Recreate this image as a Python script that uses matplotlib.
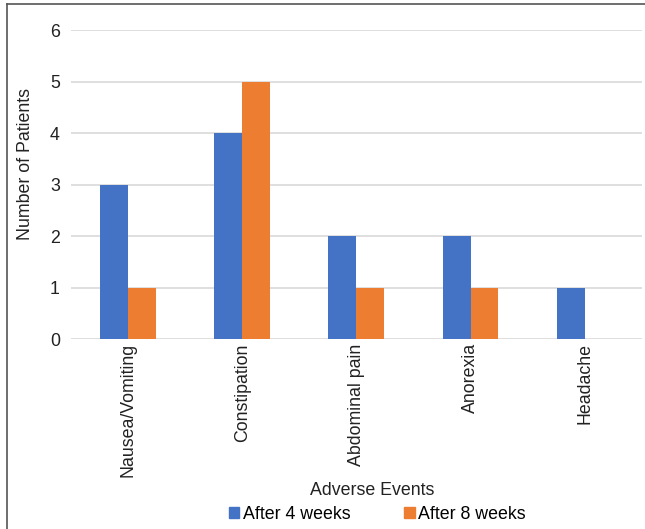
import matplotlib.pyplot as plt
import numpy as np
from matplotlib.patches import Patch
from matplotlib.lines import Line2D

# Datos
eventos = ["Nausea/Vomiting", "Constipation", "Abdominal pain", "Anorexia", "Headache"]
semana4 = [3, 4, 2, 2, 1]
semana8 = [1, 5, 1, 1, 0]
series = ["After 4 weeks", "After 8 weeks"]

azul = "#4472C4"
naranja = "#ED7D31"

plt.rcParams["font.family"] = ["Liberation Sans", "DejaVu Sans"]
plt.rcParams["font.size"] = 12.8

fig = plt.figure(figsize=(6.45, 5.29), dpi=100)
ax = fig.add_axes([0.110, 0.359, 0.885, 0.584])

x = np.arange(len(eventos))
ancho = 0.245
ax.bar(x - ancho / 2, semana4, ancho, color=azul, zorder=3)
ax.bar(x + ancho / 2, semana8, ancho, color=naranja, zorder=3)

ax.set_xlim(-0.5, len(eventos) - 0.5)
ax.set_ylim(0, 6)
ax.set_yticks(range(0, 7))
ax.set_xticks(x)
ax.set_xticklabels(eventos, rotation=90)
ax.tick_params(axis="both", length=0, colors="#222222")
ax.tick_params(axis="y", pad=8)
ax.tick_params(axis="x", pad=3)
for lbl in ax.get_yticklabels():
    lbl.set_verticalalignment("center_baseline")
for s in ax.spines.values():
    s.set_visible(False)
ax.grid(axis="y", color="#D9D9D9", linewidth=1.2, zorder=0)
ax.set_axisbelow(True)

# Etiquetas de ejes
fig.text(26 / 645, 1 - 163.5 / 529, "Number of Patients", rotation=90,
         ha="center", va="center", fontsize=12.8, color="#222222")
fig.text(0.577, 0.073, "Adverse Events", ha="center", va="center",
         fontsize=12.8, color="#222222")

handles = [Patch(color=azul), Patch(color=naranja)]
fig.legend(handles, series, loc="center", bbox_to_anchor=(0.585, 0.028), ncol=2,
           frameon=False, handlelength=0.6, handleheight=0.6, handletextpad=0.2,
           columnspacing=3.0, fontsize=12.8)

# Marco de la figura (izquierda y arriba)
fig.add_artist(Line2D([0.011, 0.011], [0.0, 0.992], color="#555555", linewidth=1.2))
fig.add_artist(Line2D([0.011, 1.0], [0.992, 0.992], color="#555555", linewidth=1.2))

fig.savefig("out.png", dpi=100)
